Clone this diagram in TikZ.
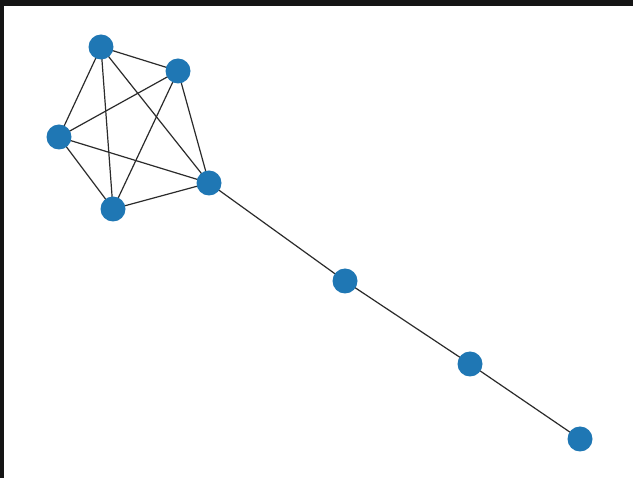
\documentclass[tikz,border=0pt]{standalone}
\usetikzlibrary{backgrounds}
\definecolor{nodeblue}{HTML}{1F77B4}
\definecolor{edgegray}{HTML}{2B2B2B}
\definecolor{frame}{HTML}{151515}
\tikzset{
  vertex/.style={circle, fill=nodeblue, draw=none, minimum size=25pt, inner sep=0pt},
  link/.style={draw=edgegray, line width=1.2pt}
}
\begin{document}
\begin{tikzpicture}[x=1pt, y=-1pt]
  \useasboundingbox (0,0) rectangle (633,478);

  % vertices
  \node[vertex] (a) at (101,47) {};
  \node[vertex] (b) at (178,71) {};
  \node[vertex] (c) at (59,137) {};
  \node[vertex] (d) at (113,209) {};
  \node[vertex] (e) at (209,183) {};
  \node[vertex] (f) at (345,281) {};
  \node[vertex] (g) at (470,364) {};
  \node[vertex] (h) at (580,439) {};

  \begin{scope}[on background layer]
    % window frame and canvas
    \fill[frame] (0,0) rectangle (633,478);
    \fill[white] (4,6) rectangle (633,478);
    % edges
    \draw[link] (a.center) -- (b.center);
    \draw[link] (a.center) -- (c.center);
    \draw[link] (a.center) -- (d.center);
    \draw[link] (a.center) -- (e.center);
    \draw[link] (b.center) -- (c.center);
    \draw[link] (b.center) -- (d.center);
    \draw[link] (b.center) -- (e.center);
    \draw[link] (c.center) -- (d.center);
    \draw[link] (c.center) -- (e.center);
    \draw[link] (d.center) -- (e.center);
    \draw[link] (e.center) -- (f.center);
    \draw[link] (f.center) -- (g.center);
    \draw[link] (g.center) -- (h.center);
  \end{scope}
\end{tikzpicture}
\end{document}
